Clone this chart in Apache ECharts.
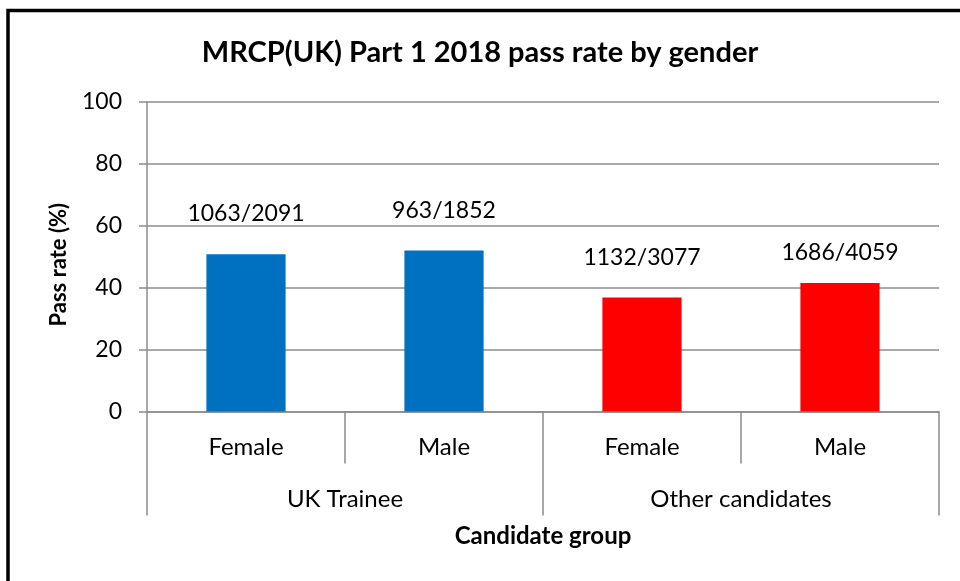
<!DOCTYPE html>
<html>
<head>
<meta charset="utf-8">
<script src="https://cdn.jsdelivr.net/npm/echarts@6/dist/echarts.min.js"></script>
<style>
  html, body { margin: 0; padding: 0; background: #fff; }
  #main { width: 960px; height: 581px; }
</style>
</head>
<body>
<div id="main"></div>
<script>
// data
var genders = ['Female', 'Male', 'Female', 'Male'];
var groups = ['UK Trainee', 'Other candidates'];
var passRate = [50.8, 52.0, 36.8, 41.5];
var passLabels = ['1063/2091', '963/1852', '1132/3077', '1686/4059'];
var barColors = ['#0070C0', '#0070C0', '#FF0000', '#FF0000'];
var yTicks = [0, 20, 40, 60, 80, 100];

var font = 'Lato, Carlito, Calibri, sans-serif';
var gridColor = '#8c8c8c';
// label gap above each bar (excel had them moved by hand)
var labelGap = [29, 28, 29, 19];

var myChart = echarts.init(document.getElementById('main'));

var option = {
  backgroundColor: '#fff',
  animation: false,
  title: {
    text: 'MRCP(UK) Part 1 2018 pass rate by gender',
    left: 'center',
    top: 33,
    textStyle: { fontFamily: font, fontSize: 29, fontWeight: 'bold', color: '#000' }
  },
  graphic: [{
    type: 'rect',
    shape: { x: 8, y: 10.5, width: 1000, height: 1000 },
    style: { fill: 'none', stroke: '#000', lineWidth: 3.5 },
    z: 100
  }],
  grid: { left: 147, right: 21, top: 102, bottom: 169.5 },
  xAxis: [
    {
      type: 'category',
      data: genders,
      position: 'bottom',
      axisLine: { show: true, lineStyle: { color: gridColor, width: 1.5 } },
      axisTick: { show: true, length: 52, lineStyle: { color: gridColor, width: 1.5 } },
      axisLabel: { margin: 24, fontFamily: font, fontSize: 24, color: '#000' }
    },
    {
      type: 'category',
      data: groups,
      position: 'bottom',
      offset: 0,
      axisLine: { show: false },
      axisTick: { show: true, length: 104, lineStyle: { color: gridColor, width: 1.5 } },
      axisLabel: { margin: 76, fontFamily: font, fontSize: 24, color: '#000' },
      name: 'Candidate group',
      nameLocation: 'middle',
      nameGap: 113,
      nameTextStyle: { fontFamily: font, fontSize: 24, fontWeight: 'bold', color: '#000' }
    }
  ],
  yAxis: {
    type: 'value',
    min: yTicks[0],
    max: yTicks[yTicks.length - 1],
    interval: yTicks[1] - yTicks[0],
    name: 'Pass rate (%)',
    nameLocation: 'middle',
    nameGap: 77,
    nameTextStyle: { fontFamily: font, fontSize: 22, fontWeight: 'bold', color: '#000', padding: [0, 16, 0, 0] },
    axisLine: { show: true, lineStyle: { color: gridColor, width: 1.5 } },
    axisTick: { show: true, length: 8, lineStyle: { color: gridColor, width: 1.5 } },
    axisLabel: { margin: 25, fontFamily: font, fontSize: 23, color: '#000' },
    splitLine: { show: true, lineStyle: { color: gridColor, width: 1.5 } }
  },
  series: [{
    type: 'bar',
    xAxisIndex: 0,
    barWidth: '40%',
    data: passRate.map(function (v, i) {
      return {
        value: v,
        itemStyle: { color: barColors[i] },
        label: {
          show: true,
          position: 'top',
          distance: labelGap[i],
          formatter: passLabels[i],
          fontFamily: font,
          fontSize: 23,
          color: '#000'
        }
      };
    })
  }]
};

myChart.setOption(option);
</script>
</body>
</html>
